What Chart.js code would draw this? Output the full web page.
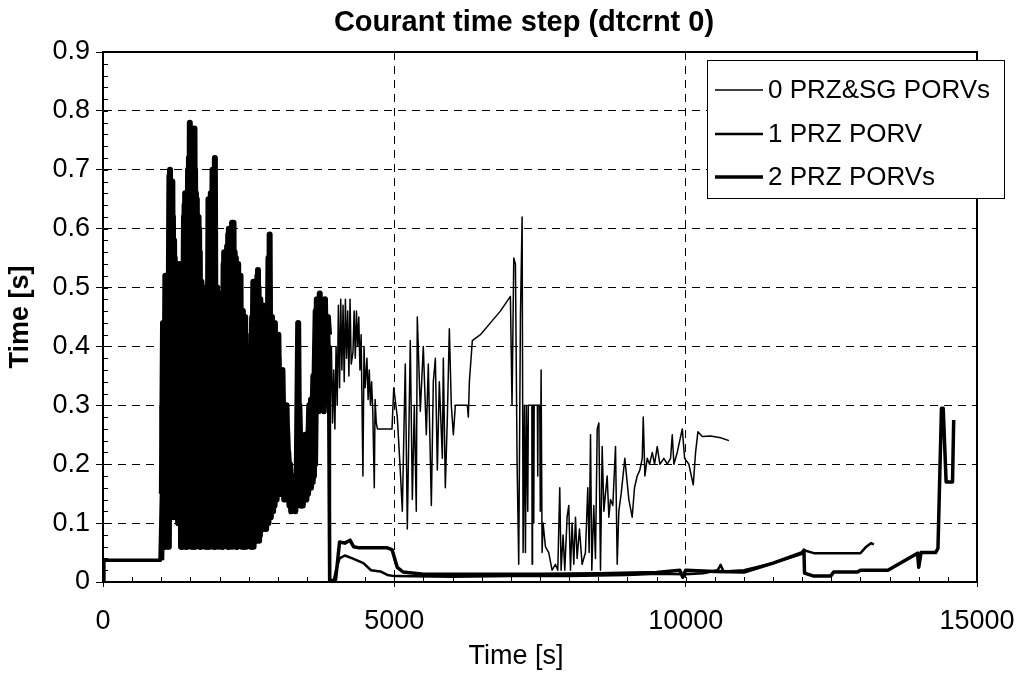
<!DOCTYPE html>
<html>
<head>
<meta charset="utf-8">
<script src="https://cdn.jsdelivr.net/npm/chart.js@4.4.1/dist/chart.umd.min.js"></script>
<style>
  html, body { margin: 0; padding: 0; background: #fff; }
</style>
</head>
<body>
<canvas id="chart" width="1021" height="682"></canvas>
<script>
// labels
const chartTitle = 'Courant time step (dtcrnt 0)'
const xTitle = 'Time [s]'
const yTitle = 'Time [s]'
const seriesNames = ['0 PRZ&SG PORVs', '1 PRZ PORV', '2 PRZ PORVs']

// axis ticks
const xTicks = [0, 5000, 10000, 15000]
const yTicks = [0, 0.1, 0.2, 0.3, 0.4, 0.5, 0.6, 0.7, 0.8, 0.9]

// [time s, time step s]
const series0 = [
  [0,0],[15,0.037],[990,0.037],
  [1010,0.15],[1030,0.44],[1050,0.06],[1070,0.52],[1090,0.07],[1110,0.35],[1130,0.06],[1150,0.70],[1170,0.12],
  [1190,0.68],[1210,0.11],[1230,0.55],[1250,0.12],[1270,0.50],[1290,0.10],[1310,0.54],[1340,0.06],[1370,0.42],
  [1390,0.07],[1410,0.66],[1430,0.06],[1450,0.64],[1470,0.07],[1490,0.78],[1510,0.06],[1530,0.74],[1550,0.08],
  [1570,0.77],[1590,0.06],[1610,0.65],[1630,0.07],[1650,0.60],[1670,0.06],[1690,0.51],[1710,0.07],[1730,0.50],
  [1750,0.06],[1770,0.48],[1790,0.08],[1810,0.65],[1830,0.06],[1850,0.66],[1870,0.07],[1890,0.60],[1905,0.06],
  [1920,0.72],[1940,0.07],[1960,0.50],[1980,0.06],[2000,0.49],[2020,0.08],[2040,0.44],[2060,0.06],[2080,0.56],
  [2100,0.07],[2120,0.52],[2140,0.06],[2160,0.60],[2180,0.07],[2200,0.58],[2220,0.06],[2240,0.61],[2260,0.08],
  [2280,0.55],[2300,0.06],[2320,0.54],[2340,0.07],[2360,0.52],[2380,0.06],[2400,0.46],[2420,0.08],[2440,0.45],
  [2460,0.06],[2480,0.38],[2500,0.07],[2520,0.34],[2540,0.06],[2580,0.51],[2600,0.07],[2620,0.50],[2640,0.08],
  [2660,0.53],[2680,0.07],[2700,0.48],[2720,0.09],[2740,0.47],[2760,0.10],[2780,0.44],[2800,0.09],[2820,0.42],
  [2840,0.10],[2860,0.59],[2880,0.11],[2900,0.45],[2920,0.12],[2950,0.44],[2980,0.14],[3010,0.42],[3040,0.15],
  [3080,0.36],[3110,0.16],[3150,0.30],[3180,0.14],[3210,0.20],[3240,0.13],[3280,0.18],[3320,0.13],[3350,0.44],
  [3370,0.14],[3400,0.22],[3430,0.13],[3470,0.25],[3500,0.15],[3540,0.30],[3570,0.16],[3610,0.35],[3640,0.20],
  [3670,0.48],[3690,0.29],[3720,0.49],[3740,0.30],[3770,0.47],[3790,0.29],[3810,0.48],[3830,0.33],[3860,0.45],
  [3880,0.42],[3900,0.30],[3920,0.40],[3940,0.27],[3960,0.36],[3980,0.26],[4000,0.40],[4020,0.30],[4040,0.47],
  [4060,0.33],[4080,0.48],[4100,0.36],[4120,0.47],[4140,0.34],[4160,0.48],[4180,0.38],[4200,0.46],[4220,0.35],
  [4240,0.48],[4260,0.37],[4290,0.39],[4310,0.46],[4330,0.38],[4350,0.46],[4370,0.40],[4390,0.45],[4410,0.36],
  [4430,0.42],[4461,0.18],[4480,0.40],[4500,0.33],[4530,0.38],[4550,0.31],[4570,0.36],[4590,0.30],[4610,0.34],
  [4630,0.29],[4656,0.16],[4670,0.31],[4690,0.27],[4710,0.26],[4960,0.26],[4990,0.33],
  [5051,0.28],[5102,0.19],[5137,0.12],[5188,0.37],[5223,0.09],[5274,0.41],[5309,0.14],[5343,0.30],[5377,0.12],
  [5394,0.45],[5446,0.29],[5497,0.40],[5549,0.25],[5583,0.37],[5635,0.13],[5669,0.34],[5704,0.38],[5738,0.19],
  [5772,0.34],[5824,0.21],[5841,0.38],[5875,0.16],[5910,0.28],[5944,0.43],[5978,0.30],[6013,0.25],[6047,0.30],
  [6253,0.30],[6270,0.28],[6288,0.34],[6339,0.41],[6477,0.42],[6649,0.44],[6820,0.46],[6992,0.485],
  [7020,0.30],[7050,0.55],[7078,0.54],[7107,0.20],[7135,0.03],[7164,0.45],[7193,0.62],[7210,0.05],[7233,0.30],
  [7250,0.05],[7267,0.30],[7290,0.12],[7300,0.30],[7360,0.30],[7365,0.03],[7372,0.30],[7390,0.30],[7393,0.10],
  [7400,0.30],[7455,0.30],[7461,0.18],[7468,0.30],[7496,0.30],[7505,0.12],[7519,0.36],[7536,0.05],[7553,0.10],
  [7593,0.06],[7650,0.05],[7707,0.02],[7765,0.03],[7805,0.02],[7839,0.16],[7862,0.02],[7896,0.08],[7925,0.02],
  [7965,0.11],[7994,0.13],[8023,0.02],[8051,0.10],[8080,0.03],[8109,0.11],[8137,0.04],[8177,0.09],[8223,0.03],
  [8280,0.05],[8320,0.16],[8343,0.05],[8367,0.25],[8389,0.02],[8423,0.13],[8452,0.04],[8482,0.26],[8510,0.27],
  [8538,0.02],[8567,0.23],[8596,0.12],[8624,0.15],[8653,0.18],[8682,0.11],[8710,0.14],[8750,0.13],[8796,0.23],
  [8825,0.03],[8853,0.12],[8893,0.15],[8956,0.21],[9025,0.14],[9082,0.11],[9122,0.16],[9168,0.18],[9213,0.19],
  [9255,0.21],[9272,0.28],[9300,0.18],[9340,0.21],[9380,0.20],[9427,0.22],[9466,0.20],[9512,0.23],[9557,0.20],
  [9626,0.21],[9684,0.20],[9741,0.21],[9770,0.25],[9798,0.20],[9855,0.22],[9942,0.26],[9982,0.21],[10055,0.20],
  [10130,0.165],[10170,0.22],[10210,0.255],[10286,0.247],[10428,0.248],[10600,0.245],[10743,0.24]
]

const series1 = [
  [0,0],[15,0.037],[995,0.037],
  [1020,0.30],[1045,0.06],[1080,0.48],[1105,0.06],[1140,0.69],[1165,0.13],[1200,0.62],[1230,0.12],[1260,0.54],
  [1285,0.11],[1320,0.40],[1350,0.06],[1390,0.62],[1420,0.06],[1460,0.70],[1480,0.07],[1520,0.76],[1545,0.06],
  [1580,0.70],[1610,0.07],[1640,0.62],[1665,0.06],[1700,0.46],[1725,0.07],[1760,0.49],[1785,0.06],[1820,0.60],
  [1845,0.07],[1880,0.70],[1910,0.06],[1950,0.48],[1975,0.07],[2010,0.45],[2035,0.06],[2070,0.54],[2095,0.07],
  [2130,0.57],[2155,0.06],[2200,0.60],[2225,0.07],[2260,0.56],[2285,0.06],[2330,0.52],[2355,0.07],[2390,0.46],
  [2415,0.06],[2450,0.42],[2475,0.07],[2520,0.40],[2550,0.06],[2590,0.50],[2615,0.07],[2650,0.52],[2675,0.08],
  [2710,0.46],[2735,0.09],[2770,0.43],[2800,0.10],[2840,0.55],[2870,0.11],[2910,0.44],[2945,0.13],[2990,0.40],
  [3030,0.15],[3070,0.32],[3110,0.14],[3160,0.26],[3200,0.13],[3260,0.17],[3300,0.12],[3340,0.20],[3390,0.13],
  [3450,0.24],[3490,0.14],[3550,0.28],[3600,0.17],[3650,0.46],[3690,0.30],[3730,0.48],[3770,0.31],[3810,0.46],
  [3850,0.35],[3880,0.40],[3895,0.003],[3960,0.003],[4000,0.02],[4060,0.04],[4150,0.045],[4280,0.04],[4470,0.032],
  [4600,0.02],[4760,0.018],[4880,0.012],[5000,0.01],[6000,0.009],[7000,0.01],[8000,0.01],[9000,0.012],[9500,0.014],
  [10000,0.013],[10300,0.015],[10550,0.02],[10600,0.029],[10650,0.018],[11000,0.02],[11500,0.032],[12000,0.048],
  [12030,0.054],[12200,0.049],[13000,0.049],[13100,0.06],[13180,0.066],[13230,0.064]
]

const series2 = [
  [0,0],[15,0.037],[1000,0.037],
  [1035,0.20],[1060,0.06],[1095,0.50],[1120,0.08],[1155,0.66],[1180,0.12],[1220,0.58],[1245,0.12],[1280,0.52],
  [1300,0.10],[1330,0.48],[1360,0.06],[1400,0.64],[1440,0.06],[1475,0.72],[1500,0.07],[1535,0.68],[1560,0.06],
  [1595,0.66],[1620,0.07],[1660,0.56],[1680,0.06],[1715,0.49],[1740,0.07],[1775,0.50],[1800,0.06],[1835,0.64],
  [1860,0.07],[1895,0.66],[1920,0.06],[1965,0.47],[1990,0.07],[2025,0.46],[2050,0.06],[2090,0.55],[2115,0.07],
  [2150,0.59],[2175,0.06],[2215,0.61],[2245,0.07],[2275,0.54],[2300,0.06],[2345,0.50],[2370,0.07],[2405,0.45],
  [2430,0.06],[2465,0.40],[2490,0.07],[2560,0.45],[2585,0.06],[2610,0.51],[2635,0.07],[2670,0.50],[2695,0.08],
  [2730,0.45],[2755,0.09],[2790,0.44],[2820,0.10],[2855,0.50],[2890,0.12],[2930,0.43],[2965,0.14],[3010,0.38],
  [3050,0.15],[3090,0.28],[3130,0.15],[3180,0.22],[3230,0.12],[3280,0.16],[3330,0.13],[3370,0.30],[3410,0.13],
  [3460,0.22],[3520,0.15],[3570,0.31],[3620,0.18],[3660,0.42],[3700,0.29],[3750,0.45],[3790,0.30],[3830,0.44],
  [3870,0.38],[3890,0.002],[3990,0.003],[4020,0.03],[4060,0.068],[4150,0.066],[4240,0.071],[4300,0.06],[4400,0.058],
  [4880,0.058],[4960,0.055],[5050,0.025],[5150,0.017],[5500,0.013],[6500,0.013],[7500,0.013],[8500,0.014],
  [9500,0.016],[9900,0.02],[9950,0.008],[10000,0.02],[10500,0.018],[11000,0.017],[11500,0.032],[12000,0.05],
  [12030,0.054],[12040,0.015],[12200,0.010],[12490,0.010],[12540,0.017],[12950,0.017],[13000,0.02],[13470,0.02],
  [13860,0.042],[13980,0.049],[14000,0.025],[14040,0.05],[14290,0.05],[14330,0.057],[14390,0.295],[14420,0.295],
  [14470,0.17],[14580,0.17],[14600,0.275]
]

const FONT = '"Liberation Sans", Arial, sans-serif'
const lineWidths = [1.5, 2.5, 3.5]

const toPoints = s => s.map(p => ({x: p[0], y: p[1]}))

// the oscillating stretch is drawn heavier, as in the scan
const inDenseStretch = c => c.p0.parsed.x >= 1000 && c.p1.parsed.x <= 3880

// frame, inner minor ticks, titles and the legend box
const decor = {
  id: 'decor',
  afterDraw(chart) {
    const {ctx, chartArea: a, scales: {x, y}} = chart
    ctx.save()
    ctx.strokeStyle = '#000'
    ctx.lineWidth = 2
    ctx.beginPath()
    ctx.moveTo(a.left, a.top)
    ctx.lineTo(a.right, a.top)
    ctx.lineTo(a.right, a.bottom)
    ctx.stroke()

    ctx.lineWidth = 1
    ctx.beginPath()
    for (let v = 500; v < 15000; v += 500) {
      const px = Math.round(x.getPixelForValue(v)) + 0.5
      ctx.moveTo(px, a.bottom)
      ctx.lineTo(px, a.bottom - 5)
    }
    for (let i = 1; i < 45; i++) {
      const py = Math.round(y.getPixelForValue(i * 0.02)) + 0.5
      ctx.moveTo(a.left, py)
      ctx.lineTo(a.left + 5, py)
    }
    ctx.stroke()

    ctx.fillStyle = '#000'
    ctx.textAlign = 'center'
    ctx.textBaseline = 'middle'
    ctx.font = 'bold 29px ' + FONT
    ctx.fillText(chartTitle, 524, 23)
    ctx.font = '27px ' + FONT
    ctx.fillText(xTitle, 516, 657)

    // legend
    ctx.fillStyle = '#fff'
    ctx.fillRect(707, 60, 297, 138)
    ctx.lineWidth = 1
    ctx.strokeRect(707.5, 60.5, 297, 138)
    ctx.fillStyle = '#000'
    ctx.textAlign = 'left'
    ctx.font = '26px ' + FONT
    const rows = [90, 134, 177]
    chart.data.datasets.forEach((ds, i) => {
      ctx.lineWidth = lineWidths[i]
      ctx.beginPath()
      ctx.moveTo(715, rows[i])
      ctx.lineTo(763, rows[i])
      ctx.stroke()
      ctx.fillText(ds.label, 768, rows[i] + 1)
    })
    ctx.restore()
  }
}

new Chart(document.getElementById('chart'), {
  type: 'line',
  data: {
    datasets: [series0, series1, series2].map((s, i) => ({
      label: seriesNames[i],
      data: toPoints(s),
      borderColor: '#000',
      borderWidth: lineWidths[i],
      borderJoinStyle: 'round',
      pointRadius: 0,
      tension: 0,
      fill: false,
      segment: {
        borderWidth: c => (inDenseStretch(c) ? 6 : lineWidths[i])
      }
    }))
  },
  options: {
    responsive: false,
    animation: false,
    events: [],
    layout: { padding: { top: 52, right: 44, bottom: 0, left: 0 } },
    plugins: {
      legend: { display: false },
      title: { display: false },
      tooltip: { enabled: false }
    },
    scales: {
      x: {
        type: 'linear',
        min: 0,
        max: 15000,
        afterBuildTicks: s => { s.ticks = xTicks.map(v => ({value: v})) },
        afterFit: s => { s.height = 100; s.paddingLeft = 0; s.paddingRight = 0 },
        ticks: {
          color: '#000',
          font: { family: FONT, size: 27 },
          padding: 18,
          maxRotation: 0,
          callback: v => String(v)
        },
        grid: { color: '#000', lineWidth: 1, tickLength: 5, tickColor: '#000' },
        border: { display: true, color: '#000', width: 2, dash: [8, 6] }
      },
      y: {
        min: 0,
        max: 0.9,
        afterBuildTicks: s => { s.ticks = yTicks.map(v => ({value: v})) },
        afterFit: s => { s.width = 103; s.paddingTop = 0; s.paddingBottom = 0 },
        ticks: {
          color: '#000',
          font: { family: FONT, size: 27 },
          padding: 6,
          callback: v => (v === 0 ? '0' : Number(v).toFixed(1))
        },
        grid: { color: '#000', lineWidth: 1, tickLength: 7, tickColor: '#000' },
        border: { display: true, color: '#000', width: 2, dash: [8, 6] },
        title: {
          display: true,
          text: yTitle,
          color: '#000',
          font: { family: FONT, size: 27, weight: 'bold' },
          padding: { top: 4, bottom: 0 }
        }
      }
    }
  },
  plugins: [decor]
})
</script>
</body>
</html>
